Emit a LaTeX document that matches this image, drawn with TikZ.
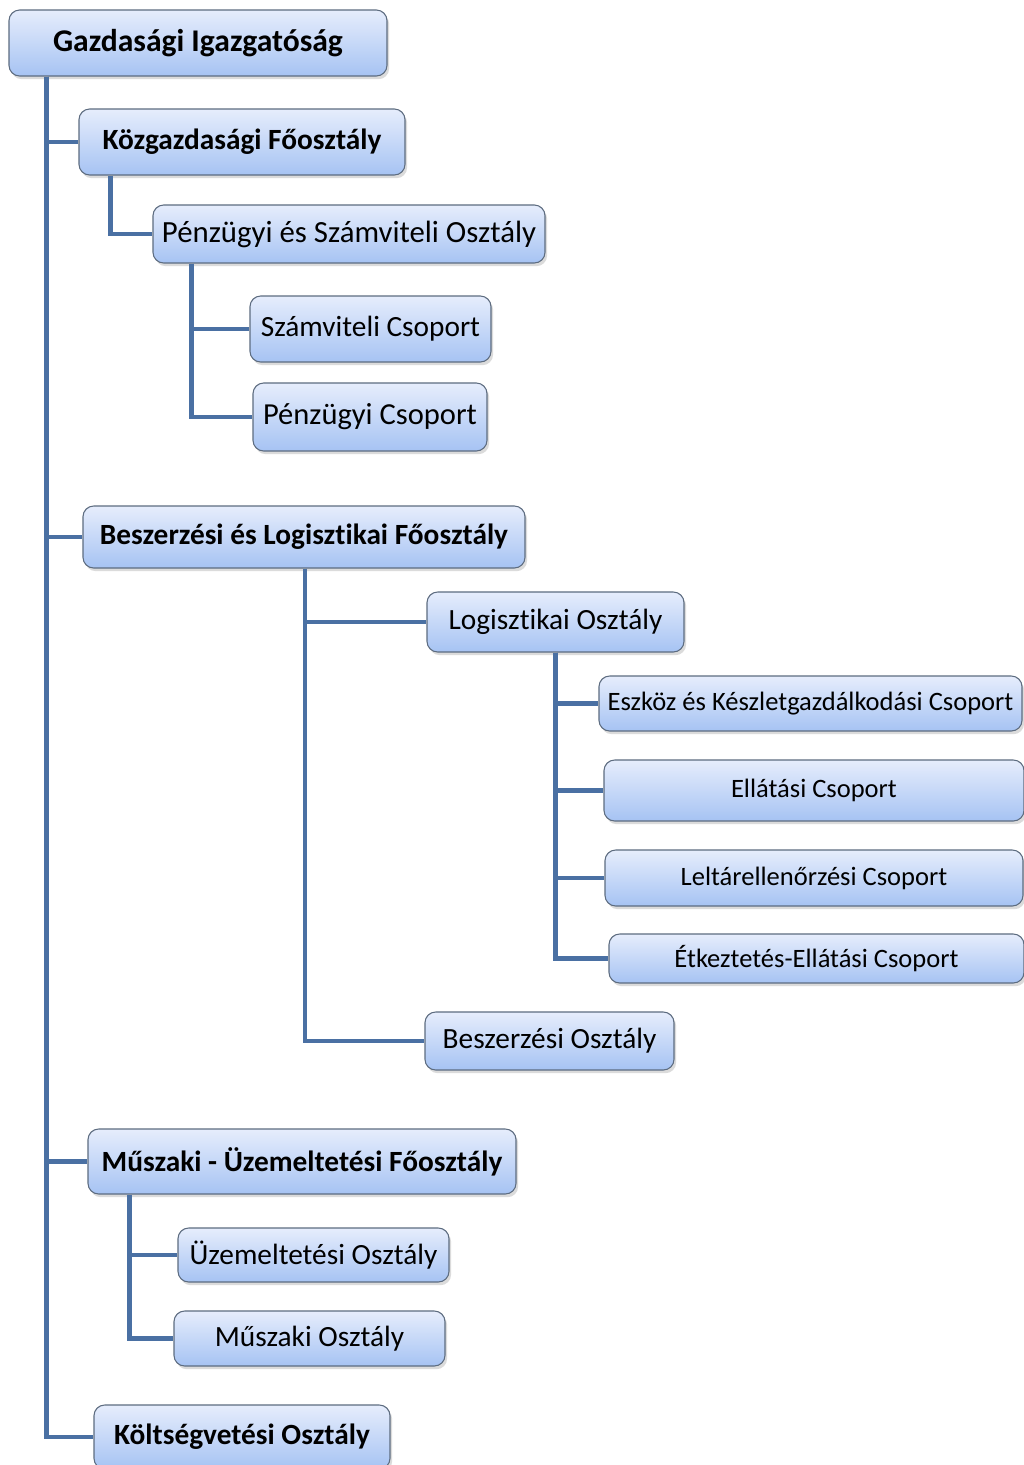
\documentclass[tikz,border=0pt]{standalone}
\usepackage{fontspec}
\setmainfont[Ligatures=NoCommon]{Carlito}
\usetikzlibrary{calc,shadows}
\definecolor{connblue}{HTML}{4A70A3}
\definecolor{boxtop}{HTML}{E6EDFC}
\definecolor{boxbot}{HTML}{A6C3F3}
\definecolor{boxedge}{HTML}{5D6C80}
\tikzset{
  unit/.style={rectangle, rounded corners=8pt, draw=boxedge, line width=0.8pt,
    top color=boxtop, bottom color=boxbot, inner sep=0pt, text=black,
    drop shadow={opacity=0.28, shadow xshift=1.6pt, shadow yshift=-2.4pt}},
  bigfont/.style={font=\fontsize{22}{26}\selectfont\bfseries},
  midfont/.style={font=\fontsize{22}{26}\selectfont},
  smallfont/.style={font=\fontsize{19.9}{24}\selectfont},
  conn/.style={draw=connblue, line width=3.1pt, line cap=butt, line join=miter},
}
\begin{document}
\begin{tikzpicture}[x=0.75pt,y=-0.75pt]
\clip (0,0) rectangle (1024,1465);
\useasboundingbox (0,0) rectangle (1024,1465);
\fill[white] (0,0) rectangle (1024,1465);

% nodes
\node[unit, minimum width=378*0.75pt, minimum height=66*0.75pt,
  font=\fontsize{23.7}{28}\selectfont\bfseries] (g) at (198,43) {Gazdasági Igazgatóság};
\node[unit, bigfont, minimum width=326*0.75pt, minimum height=66*0.75pt] (k) at (242,142) {Közgazdasági Főosztály};
\node[unit, font=\fontsize{23.1}{27}\selectfont, minimum width=392*0.75pt, minimum height=58*0.75pt] (p) at (349,234) {Pénzügyi és Számviteli Osztály};
\node[unit, midfont, minimum width=241*0.75pt, minimum height=66*0.75pt] (sc) at (370.5,329) {Számviteli Csoport};
\node[unit, font=\fontsize{22.9}{27}\selectfont, minimum width=234*0.75pt, minimum height=68*0.75pt] (pc) at (370,417) {Pénzügyi Csoport};
\node[unit, bigfont, minimum width=442*0.75pt, minimum height=62*0.75pt] (b) at (304,537) {Beszerzési és Logisztikai Főosztály};
\node[unit, midfont, minimum width=257*0.75pt, minimum height=60*0.75pt] (lo) at (555.5,622) {Logisztikai Osztály};
\node[unit, smallfont, minimum width=423*0.75pt, minimum height=55*0.75pt] (e1) at (810.5,703.5) {Eszköz és Készletgazdálkodási Csoport};
\node[unit, smallfont, minimum width=420*0.75pt, minimum height=61*0.75pt] (e2) at (814,790.5) {Ellátási Csoport};
\node[unit, smallfont, minimum width=418*0.75pt, minimum height=56*0.75pt] (e3) at (814,878) {Leltárellenőrzési Csoport};
\node[unit, smallfont, minimum width=415*0.75pt, minimum height=49*0.75pt] (e4) at (816.5,958.5) {Étkeztetés-Ellátási Csoport};
\node[unit, midfont, minimum width=249*0.75pt, minimum height=58*0.75pt] (bo) at (549.5,1041) {Beszerzési Osztály};
\node[unit, bigfont, minimum width=428*0.75pt, minimum height=65*0.75pt] (m) at (302,1161.5) {Műszaki - Üzemeltetési Főosztály};
\node[unit, midfont, minimum width=271*0.75pt, minimum height=54*0.75pt] (u) at (313.5,1255) {Üzemeltetési Osztály};
\node[unit, midfont, minimum width=271*0.75pt, minimum height=55*0.75pt] (mo) at (309.5,1338.5) {Műszaki Osztály};
\node[unit, bigfont, minimum width=296*0.75pt, minimum height=64*0.75pt] (ko) at (242,1437) {Költségvetési Osztály};

% connectors
\draw[conn] ($(g.south west)+(38,0)$) |- (ko.west);
\draw[conn] ($(g.south west)+(38,0)$) |- (k.west);
\draw[conn] ($(g.south west)+(38,0)$) |- (b.west);
\draw[conn] ($(g.south west)+(38,0)$) |- (m.west);

\draw[conn] ($(k.south west)+(32,0)$) |- (p.west);

\draw[conn] ($(p.south west)+(39,0)$) |- (pc.west);
\draw[conn] ($(p.south west)+(39,0)$) |- (sc.west);

\draw[conn] ($(b.south)+(1,0)$) |- (bo.west);
\draw[conn] ($(b.south)+(1,0)$) |- (lo.west);

\draw[conn] (lo.south) |- (e4.west);
\draw[conn] (lo.south) |- (e1.west);
\draw[conn] (lo.south) |- (e2.west);
\draw[conn] (lo.south) |- (e3.west);

\draw[conn] ($(m.south west)+(42,0)$) |- (mo.west);
\draw[conn] ($(m.south west)+(42,0)$) |- (u.west);
\end{tikzpicture}
\end{document}
